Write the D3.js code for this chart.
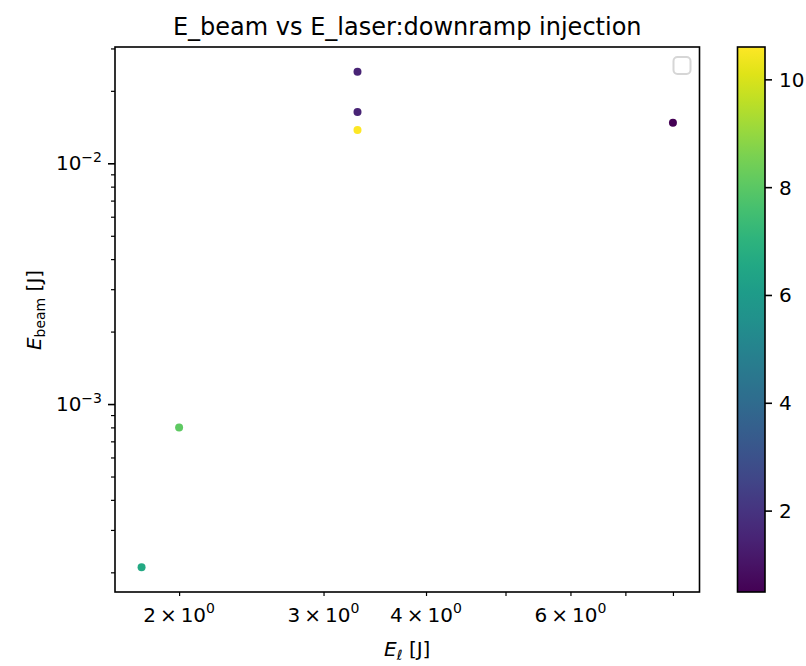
<!DOCTYPE html>
<html>
<head>
<meta charset="utf-8">
<script src="https://cdn.jsdelivr.net/npm/d3@7"></script>
<style>
  html, body { margin: 0; padding: 0; background: #fff; }
  svg { display: block; font-family: "DejaVu Sans", sans-serif; }
</style>
</head>
<body>
<svg id="chart" width="806" height="666"></svg>
<script>
// Laser energy (J), beam energy (J) and colour value for each shot
const laserEnergy = [3.3, 3.3, 3.3, 8.0, 2.0, 1.8];
const beamEnergy  = [2.40e-2, 1.635e-2, 1.374e-2, 1.475e-2, 8.0e-4, 2.1e-4];
const colourValue = [1.5, 1.5, 10.6, 0.49, 8.1, 6.6];

// Tick values
const xMinorTicks  = [2, 3, 4, 5, 6, 7, 8];
const xLabelTicks  = [2, 3, 4, 6];
const yMajorTicks  = [1e-3, 1e-2];
const yMinorTicks  = [2e-4, 3e-4, 4e-4, 5e-4, 6e-4, 7e-4, 8e-4, 9e-4,
                      2e-3, 3e-3, 4e-3, 5e-3, 6e-3, 7e-3, 8e-3, 9e-3,
                      2e-2, 3e-2];
const cbarTicks    = [2, 4, 6, 8, 10];

const titleText = "E_beam vs E_laser:downramp injection";

const svg = d3.select("#chart");
const plot = { left: 115, right: 699.5, top: 47, bottom: 592 };
const cbar = { left: 737.5, right: 765, top: 47, bottom: 592 };

// log-space domain padded by 5% on each side
function paddedLogDomain(vals) {
  const lo = Math.log10(d3.min(vals)), hi = Math.log10(d3.max(vals));
  const m = (hi - lo) * 0.05;
  return [Math.pow(10, lo - m), Math.pow(10, hi + m)];
}

const x = d3.scaleLog().domain(paddedLogDomain(laserEnergy)).range([plot.left, plot.right]);
const y = d3.scaleLog().domain(paddedLogDomain(beamEnergy)).range([plot.bottom, plot.top]);
const cExtent = d3.extent(colourValue);
const cNorm = d3.scaleLinear().domain(cExtent).range([0, 1]);
const colour = v => d3.interpolateViridis(cNorm(v));

// points
const pts = d3.range(laserEnergy.length).map(i => ({ x: laserEnergy[i], y: beamEnergy[i], c: colourValue[i] }));
svg.append("g").selectAll("circle").data(pts).join("circle")
  .attr("cx", d => x(d.x)).attr("cy", d => y(d.y)).attr("r", 4)
  .attr("fill", d => colour(d.c));

// x ticks
const gx = svg.append("g").attr("transform", `translate(0,${plot.bottom})`)
  .call(d3.axisBottom(x).tickValues(xMinorTicks).tickSize(4).tickFormat(() => ""));
gx.select(".domain").remove();
gx.selectAll(".tick line").attr("stroke", "#000").attr("stroke-width", 1.2);

const xl = svg.append("g").attr("font-size", 20).attr("fill", "#000");
xLabelTicks.forEach(v => {
  const t = xl.append("text").attr("x", x(v)).attr("y", 621.5).attr("text-anchor", "middle");
  t.append("tspan").text(`${v}\u2009×\u200910`);
  t.append("tspan").attr("dy", -8.5).attr("font-size", 14).text("0");
});

// y ticks
const gyMinor = svg.append("g").attr("transform", `translate(${plot.left},0)`)
  .call(d3.axisLeft(y).tickValues(yMinorTicks.filter(v => v >= y.domain()[0] && v <= y.domain()[1])).tickSize(4).tickFormat(() => ""));
gyMinor.select(".domain").remove();
gyMinor.selectAll(".tick line").attr("stroke", "#000").attr("stroke-width", 1.2);

const gyMajor = svg.append("g").attr("transform", `translate(${plot.left},0)`)
  .call(d3.axisLeft(y).tickValues(yMajorTicks).tickSize(7).tickFormat(() => ""));
gyMajor.select(".domain").remove();
gyMajor.selectAll(".tick line").attr("stroke", "#000").attr("stroke-width", 1.6);

const yl = svg.append("g").attr("font-size", 20).attr("fill", "#000");
yMajorTicks.forEach(v => {
  const t = yl.append("text").attr("x", plot.left - 13).attr("y", y(v) + 7).attr("text-anchor", "end");
  t.append("tspan").text("10");
  t.append("tspan").attr("dy", -8.5).attr("font-size", 14).text("\u2212" + Math.round(-Math.log10(v)));
});

// frame
svg.append("rect")
  .attr("x", plot.left).attr("y", plot.top)
  .attr("width", plot.right - plot.left).attr("height", plot.bottom - plot.top)
  .attr("fill", "none").attr("stroke", "#000").attr("stroke-width", 1.6);

// empty legend frame
svg.append("rect")
  .attr("x", 673.5).attr("y", 57).attr("width", 17).attr("height", 17).attr("rx", 4)
  .attr("fill", "#fff").attr("stroke", "#d6d6d6").attr("stroke-width", 2);

// title
svg.append("text").attr("x", (plot.left + plot.right) / 2).attr("y", 35)
  .attr("text-anchor", "middle").attr("font-size", 24).attr("fill", "#000")
  .text(titleText);

// x axis label
const xLab = svg.append("text").attr("x", (plot.left + plot.right) / 2).attr("y", 656)
  .attr("text-anchor", "middle").attr("font-size", 20).attr("fill", "#000");
xLab.append("tspan").attr("font-style", "italic").text("E");
xLab.append("tspan").attr("font-style", "italic").attr("font-size", 14).attr("dy", 4).text("ℓ");
xLab.append("tspan").attr("dy", -4).text(" [J]");

// y axis label
const yLab = svg.append("text")
  .attr("transform", `translate(41,310) rotate(-90)`)
  .attr("text-anchor", "middle").attr("font-size", 20).attr("fill", "#000");
yLab.append("tspan").attr("font-style", "italic").text("E");
yLab.append("tspan").attr("font-size", 14).attr("dy", 4).text("beam");
yLab.append("tspan").attr("dy", -4).text(" [J]");

// colour bar
const defs = svg.append("defs");
const grad = defs.append("linearGradient").attr("id", "viridisGrad")
  .attr("x1", 0).attr("y1", 1).attr("x2", 0).attr("y2", 0);
d3.range(0, 1.0001, 0.05).forEach(t => {
  grad.append("stop").attr("offset", t).attr("stop-color", d3.interpolateViridis(t));
});
svg.append("rect")
  .attr("x", cbar.left).attr("y", cbar.top)
  .attr("width", cbar.right - cbar.left).attr("height", cbar.bottom - cbar.top)
  .attr("fill", "url(#viridisGrad)").attr("stroke", "#000").attr("stroke-width", 1.6);

const cScale = d3.scaleLinear().domain(cExtent).range([cbar.bottom, cbar.top]);
const gc = svg.append("g").attr("transform", `translate(${cbar.right},0)`)
  .call(d3.axisRight(cScale).tickValues(cbarTicks).tickSize(7).tickPadding(7).tickFormat(d3.format("d")));
gc.select(".domain").remove();
gc.selectAll(".tick line").attr("stroke", "#000").attr("stroke-width", 1.6);
gc.selectAll(".tick text").attr("font-size", 20).attr("fill", "#000")
  .attr("font-family", "DejaVu Sans, sans-serif").attr("dy", 7);
</script>
</body>
</html>
